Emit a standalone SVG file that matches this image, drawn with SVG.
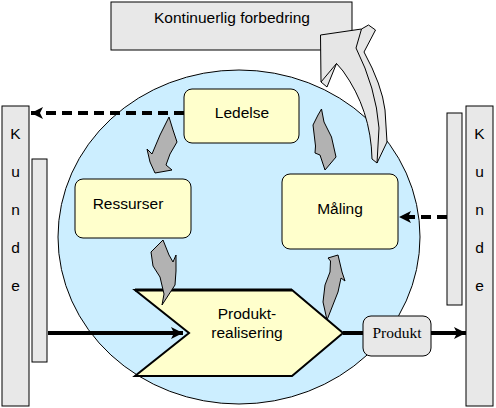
<svg xmlns="http://www.w3.org/2000/svg" width="496" height="408" viewBox="0 0 496 408">
<style>
  .t { font-family: "Liberation Sans", Arial, sans-serif; font-size: 15.5px; fill: #000; text-anchor: middle; }
  .ts { font-family: "Liberation Serif", "Times New Roman", serif; font-size: 15.5px; fill: #000; text-anchor: middle; }
  .bar { fill: #e8e8e8; stroke: #000; stroke-width: 1; }
  .box { fill: #ffffcc; stroke: #000; stroke-width: 1; }
  .garrow { fill: #b2b2b2; stroke: #000; stroke-width: 1; stroke-linejoin: round; }
  .dash { fill: none; stroke: #000; stroke-width: 4; stroke-dasharray: 10 6; }
  .solid { fill: none; stroke: #000; stroke-width: 4; }
</style>
<defs>
  <marker id="ah" markerUnits="userSpaceOnUse" markerWidth="12" markerHeight="12" refX="12" refY="6" orient="auto">
    <path d="M0,0 L12,6 L0,12 L3,6 Z" fill="#000"/>
  </marker>
</defs>

<g id="kunde-left">
  <rect class="bar" x="2" y="106" width="27" height="300"/>
  <text class="t" x="15.5" y="139">K</text>
  <text class="t" x="15.5" y="177">u</text>
  <text class="t" x="15.5" y="215">n</text>
  <text class="t" x="15.5" y="253">d</text>
  <text class="t" x="15.5" y="291">e</text>
</g>
<g id="bar-left-inner">
  <rect class="bar" x="32" y="159" width="15" height="203"/>
</g>
<g id="kunde-right">
  <rect class="bar" x="466" y="106" width="27" height="300"/>
  <text class="t" x="479.5" y="139">K</text>
  <text class="t" x="479.5" y="177">u</text>
  <text class="t" x="479.5" y="215">n</text>
  <text class="t" x="479.5" y="253">d</text>
  <text class="t" x="479.5" y="291">e</text>
</g>
<g id="bar-right-inner">
  <rect class="bar" x="447" y="113" width="15" height="192"/>
</g>

<g id="circle">
  <ellipse cx="239" cy="237" rx="181" ry="167" fill="#cceeff" stroke="#000" stroke-width="1"/>
</g>

<g id="kontinuerlig">
  <rect class="bar" x="111" y="2" width="241" height="48"/>
  <text class="t" x="232" y="23">Kontinuerlig forbedring</text>
</g>

<g id="big-arrow">
  <path d="M320.5,35 L361.5,29 L368.5,25 L375.5,30 L364,52 Q382,85 385,110 L387,142 L377,163 L372,159 Q371,110 343,71 L336.5,63.5 L327,87 L321,82 Z" fill="#e6e6e6" stroke="#000" stroke-width="1" stroke-linejoin="round"/>
  <path d="M361.5,29 L356,48 Q376,88 379,128 L377,163" fill="none" stroke="#000" stroke-width="1"/>
  <path d="M321,82 L336.5,63.5" fill="none" stroke="#000" stroke-width="1"/>
</g>

<g id="ledelse">
  <rect class="box" x="184" y="89" width="115" height="54" rx="8"/>
  <text class="t" x="242" y="118">Ledelse</text>
</g>
<g id="ressurser">
  <rect class="box" x="75" y="179" width="116" height="59" rx="8"/>
  <text class="t" x="128" y="209">Ressurser</text>
</g>
<g id="maaling">
  <rect class="box" x="282" y="174" width="116" height="75" rx="8"/>
  <text class="t" x="340" y="214">Måling</text>
</g>
<g id="produktrealisering">
  <polygon points="135,290 292,290 343,333 292,376 135,376 189,333" fill="#ffffcc" stroke="#000" stroke-width="2" stroke-linejoin="miter"/>
  <line x1="135" y1="290" x2="292" y2="290" stroke="#000" stroke-width="3"/>
  <text class="t" x="247" y="319">Produkt-</text>
  <text class="t" x="247" y="338">realisering</text>
</g>

<g id="cycle-arrows">
  <polygon class="garrow" points="169,117 173,130 177,142 170,154 166,165 172,170 155,173 150,162 147,149 152,154 160,135"/>
  <polygon class="garrow" points="151,252 163,240 169,255 173,262 176,255 176,271 175,285 162,305 164,294 160,277 153,266"/>
  <polygon class="garrow" points="321.5,109 324,122 331.5,137 336,157 325,170 320,155 315,153 315.5,146 313,125 318,115"/>
  <polygon class="garrow" points="328,258 338,255 342,272 345,281 341,278 338,292 327,320 323,302 325,285 330,272 330.5,261"/>
</g>

<g id="connectors">
  <line class="dash" x1="184" y1="113" x2="31" y2="113" marker-end="url(#ah)"/>
  <line class="dash" x1="447" y1="217" x2="399" y2="217" marker-end="url(#ah)"/>
  <line class="solid" x1="48" y1="333" x2="183" y2="333" marker-end="url(#ah)"/>
  <line class="solid" x1="343" y1="333" x2="364" y2="333"/>
  <line class="solid" x1="430" y1="333" x2="466" y2="333" marker-end="url(#ah)"/>
</g>

<g id="produkt">
  <rect x="363" y="316" width="68" height="40" rx="8" fill="#e8e8e8" stroke="#000" stroke-width="1"/>
  <text class="ts" x="397" y="338">Produkt</text>
</g>
</svg>
